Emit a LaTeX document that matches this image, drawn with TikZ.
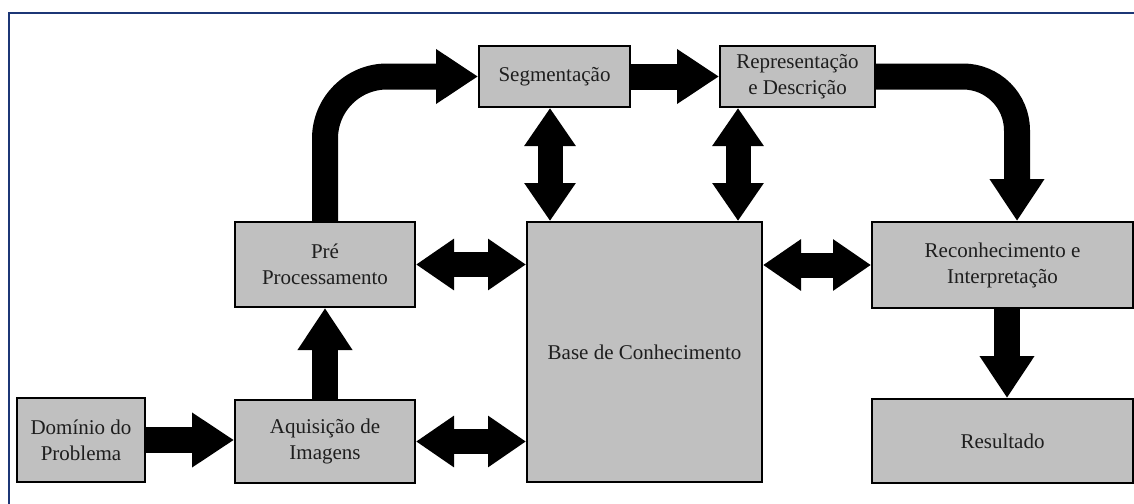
\documentclass[tikz,border=0pt]{standalone}
\usepackage{fontspec}
\setmainfont{Liberation Serif}
\usetikzlibrary{arrows.meta}
\definecolor{frameblue}{RGB}{28,54,118}
\definecolor{boxgray}{RGB}{192,192,192}
\definecolor{txt}{RGB}{30,30,30}
\tikzset{
  box/.style={draw=black, line width=2pt, fill=boxgray, rectangle, inner sep=0pt,
    align=center, text=txt, font=\fontsize{21}{26}\selectfont},
  bigarrow/.style={draw=black, line width=26pt, -{Triangle[width=52pt,length=42pt]}},
  dblarrow/.style={draw=black, line width=25pt,
    {Triangle[width=49pt,length=38pt]}-{Triangle[width=49pt,length=38pt]}},
}
\begin{document}
\begin{tikzpicture}[x=1pt,y=-1pt]
\useasboundingbox (0,0) rectangle (1134,503);
\draw[frameblue, line width=1.6pt] (9,560) -- (9,13) -- (1200,13);

\node[box, minimum width=128pt, minimum height=84pt] (dom) at (81,440) {Domínio do\\Problema};
\node[box, minimum width=180pt, minimum height=83pt] (aq) at (325,441.5) {Aquisição de\\Imagens};
\node[box, minimum width=180pt, minimum height=85pt] (pre) at (325,264.5) {Pré\\Processamento};
\node[box, minimum width=235pt, minimum height=260pt] (base) at (644.5,352) {Base de Conhecimento};
\node[box, minimum width=151pt, minimum height=61pt] (seg) at (554.5,76.5) {Segmentação};
\node[box, minimum width=155pt, minimum height=61pt] (rep) at (797.5,76.5) {Representação\\e Descrição};
\node[box, minimum width=261pt, minimum height=86pt] (rec) at (1002.5,265) {Reconhecimento e\\Interpretação};
\node[box, minimum width=261pt, minimum height=84pt] (res) at (1002.5,441) {Resultado};

\coordinate (xsb) at (550,0);
\coordinate (xrb) at (738,0);
\coordinate (xrr) at (1017,0);
\coordinate (xres) at (1007,0);

% single arrows
\draw[bigarrow] (dom.east) -- (dom.east -| aq.west);
\draw[bigarrow] (aq.north) -- (pre.south);
\draw[bigarrow, rounded corners=62pt] (pre.north) |- (seg.west);
\draw[bigarrow] (seg.east) -- (rep.west);
\draw[bigarrow, rounded corners=54pt] (rep.east) -| (rec.north -| xrr);
\draw[bigarrow] (rec.south -| xres) -- (res.north -| xres);

% double arrows
\draw[dblarrow] (seg.south -| xsb) -- (base.north -| xsb);
\draw[dblarrow] (rep.south -| xrb) -- (base.north -| xrb);
\draw[dblarrow] (pre.east) -- (pre.east -| base.west);
\draw[dblarrow] (aq.east) -- (aq.east -| base.west);
\draw[dblarrow] (rec.west -| base.east) -- (rec.west);
\end{tikzpicture}
\end{document}
